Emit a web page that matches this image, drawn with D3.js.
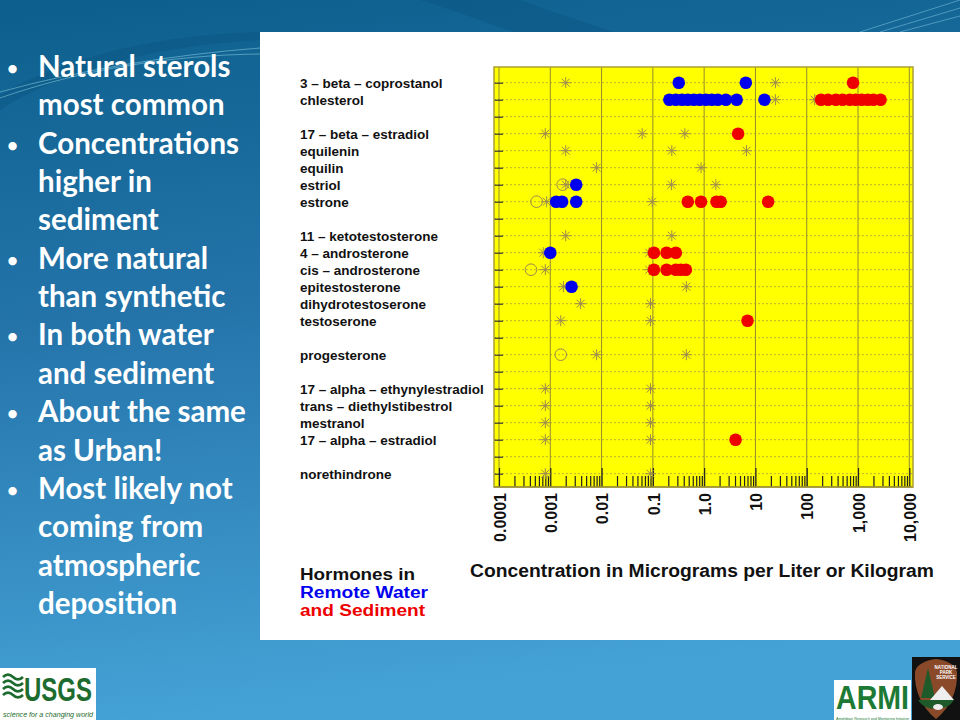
<!DOCTYPE html>
<html>
<head>
<meta charset="utf-8">
<script src="https://cdn.jsdelivr.net/npm/d3@7"></script>
<style>
  body { margin: 0; background: #fff; }
  svg { display: block; }
</style>
</head>
<body>
<svg width="960" height="720"></svg>
<script>
// ---------------- data ----------------
const bullets = [
  ["Natural sterols", "most common"],
  ["Concentrations", "higher in", "sediment"],
  ["More natural", "than synthetic"],
  ["In both water", "and sediment"],
  ["About the same", "as Urban!"],
  ["Most likely not", "coming from", "atmospheric", "deposition"]
];

// row labels, "" = empty spacer row
const compounds = [
  "3 – beta – coprostanol", "chlesterol", "",
  "17 – beta – estradiol", "equilenin", "equilin", "estriol", "estrone", "",
  "11 – ketotestosterone", "4 – androsterone", "cis – androsterone", "epitestosterone",
  "dihydrotestoserone", "testoserone", "",
  "progesterone", "",
  "17 – alpha – ethynylestradiol", "trans – diethylstibestrol", "mestranol", "17 – alpha – estradiol", "",
  "norethindrone"
];

// remote water detections (blue)
const water = [
  ["3 – beta – coprostanol", 0.32], ["3 – beta – coprostanol", 6.5],
  ["chlesterol", 0.21], ["chlesterol", 0.28], ["chlesterol", 0.37], ["chlesterol", 0.48],
  ["chlesterol", 0.63], ["chlesterol", 0.82], ["chlesterol", 1.08], ["chlesterol", 1.41],
  ["chlesterol", 1.85], ["chlesterol", 2.65], ["chlesterol", 4.3], ["chlesterol", 15],
  ["estriol", 0.0032],
  ["estrone", 0.0013], ["estrone", 0.0017], ["estrone", 0.0032],
  ["4 – androsterone", 0.001],
  ["epitestosterone", 0.0026]
];

// sediment detections (red)
const sediment = [
  ["3 – beta – coprostanol", 800],
  ["chlesterol", 190], ["chlesterol", 260], ["chlesterol", 370], ["chlesterol", 500],
  ["chlesterol", 690], ["chlesterol", 900], ["chlesterol", 1180], ["chlesterol", 1550],
  ["chlesterol", 2000], ["chlesterol", 2750],
  ["17 – beta – estradiol", 4.6],
  ["estrone", 0.48], ["estrone", 0.87], ["estrone", 1.74], ["estrone", 2.1], ["estrone", 17.7],
  ["4 – androsterone", 0.105], ["4 – androsterone", 0.185], ["4 – androsterone", 0.28],
  ["cis – androsterone", 0.105], ["cis – androsterone", 0.185], ["cis – androsterone", 0.28],
  ["cis – androsterone", 0.35], ["cis – androsterone", 0.44],
  ["testoserone", 7.0],
  ["17 – alpha – estradiol", 4.1]
];

// non-detects / reporting levels (asterisks)
const limits = [
  ["3 – beta – coprostanol", 0.002], ["3 – beta – coprostanol", 24.5],
  ["chlesterol", 24.5], ["chlesterol", 143],
  ["17 – beta – estradiol", 0.0008], ["17 – beta – estradiol", 0.062], ["17 – beta – estradiol", 0.42],
  ["equilenin", 0.002], ["equilenin", 0.234], ["equilenin", 6.7],
  ["equilin", 0.008], ["equilin", 0.87],
  ["estriol", 0.002], ["estriol", 0.23], ["estriol", 1.69],
  ["estrone", 0.00085], ["estrone", 0.097],
  ["11 – ketotestosterone", 0.002], ["11 – ketotestosterone", 0.234],
  ["4 – androsterone", 0.00073], ["4 – androsterone", 0.085],
  ["cis – androsterone", 0.0008], ["cis – androsterone", 0.085],
  ["epitestosterone", 0.0018], ["epitestosterone", 0.45],
  ["dihydrotestoserone", 0.0039], ["dihydrotestoserone", 0.09],
  ["testoserone", 0.0016], ["testoserone", 0.09],
  ["progesterone", 0.008], ["progesterone", 0.45],
  ["17 – alpha – ethynylestradiol", 0.0008], ["17 – alpha – ethynylestradiol", 0.09],
  ["trans – diethylstibestrol", 0.0008], ["trans – diethylstibestrol", 0.09],
  ["mestranol", 0.0008], ["mestranol", 0.09],
  ["17 – alpha – estradiol", 0.0008], ["17 – alpha – estradiol", 0.09],
  ["norethindrone", 0.0008], ["norethindrone", 0.09]
];

// open circles
const estimated = [
  ["estriol", 0.00174], ["estrone", 0.00054], ["cis – androsterone", 0.00042], ["progesterone", 0.0016]
];

const decades = [1e-4, 1e-3, 1e-2, 1e-1, 1, 10, 100, 1000, 10000];
const decadeLabels = ["0.0001", "0.001", "0.01", "0.1", "1.0", "10", "100", "1,000", "10,000"];

// ---------------- slide background ----------------
const svg = d3.select("svg");
const defs = svg.append("defs");
const bg = defs.append("linearGradient").attr("id", "bg")
  .attr("x1", 0).attr("y1", 0).attr("x2", 0.15).attr("y2", 1);
bg.append("stop").attr("offset", 0).attr("stop-color", "#0c5f8c");
bg.append("stop").attr("offset", 0.45).attr("stop-color", "#2474aa");
bg.append("stop").attr("offset", 1).attr("stop-color", "#45a2d6");

svg.append("rect").attr("width", 960).attr("height", 720).attr("fill", "url(#bg)");

// swooshes
svg.append("path").attr("d", "M420,0 C470,15 530,40 600,60 L700,60 C640,40 560,15 520,0 Z")
  .attr("fill", "#0a4f7c").attr("opacity", 0.35);
svg.append("path").attr("d", "M0,110 C60,70 160,45 260,40 L260,32 C150,35 60,60 0,95 Z")
  .attr("fill", "#0a4f7c").attr("opacity", 0.35);
[[0, 92, 260, 48], [0, 98, 260, 54]].forEach(d => {
  svg.append("path").attr("d", `M${d[0]},${d[1]} C80,70 170,55 ${d[2]},${d[3]}`)
    .attr("fill", "none").attr("stroke", "#9fe0f0").attr("stroke-width", 0.8).attr("opacity", 0.6);
});
[[860, 32, 960, 0], [880, 32, 960, 8], [900, 32, 960, 16]].forEach(d => {
  svg.append("line").attr("x1", d[0]).attr("y1", d[1]).attr("x2", d[2]).attr("y2", d[3])
    .attr("stroke", "#8fd0ea").attr("stroke-width", 0.8).attr("opacity", 0.6);
});

// bullet text
let line = 0;
const bulletG = svg.append("g").attr("fill", "#fff")
  .style("font-family", "Lato, 'Open Sans', sans-serif").style("font-weight", "bold");
bullets.forEach(b => {
  bulletG.append("text").attr("x", 7).attr("y", 75 + line * 38.35)
    .style("font-size", "19px").text("•");
  b.forEach(t => {
    bulletG.append("text").attr("x", 38).attr("y", 77 + line * 38.35)
      .style("font-size", "29.5px").text(t);
    line++;
  });
});

// white panel
svg.append("rect").attr("x", 260).attr("y", 32).attr("width", 700).attr("height", 608).attr("fill", "#fff");

// ---------------- chart ----------------
const plot = { left: 494, right: 913, top: 67, bottom: 487 };
const x = d3.scaleLog().domain([1e-4, 1e4]).range([499, 909.3]);
const y = d3.scalePoint().domain(d3.range(compounds.length)).range([82.7, 473.7]);
const rowY = name => y(compounds.indexOf(name));

const g = svg.append("g");
g.append("rect").attr("x", plot.left).attr("y", plot.top)
  .attr("width", plot.right - plot.left).attr("height", plot.bottom - plot.top)
  .attr("fill", "#ffff00");

// horizontal dotted grid
g.selectAll(".hgrid").data(d3.range(compounds.length)).join("line")
  .attr("x1", plot.left).attr("x2", plot.right)
  .attr("y1", d => y(d)).attr("y2", d => y(d))
  .attr("stroke", "#a8a040").attr("stroke-width", 0.8).attr("stroke-dasharray", "2,2");

// vertical decade grid
g.selectAll(".vgrid").data(decades).join("line")
  .attr("x1", d => x(d)).attr("x2", d => x(d))
  .attr("y1", plot.top).attr("y2", plot.bottom)
  .attr("stroke", "#948c30").attr("stroke-width", 1);

// left ticks inside plot
const yAxis = g.append("g").attr("transform", `translate(${plot.left},0)`)
  .call(d3.axisRight(y).tickSize(9).tickFormat(""));
yAxis.select(".domain").remove();
yAxis.selectAll("line").attr("stroke", "#333").attr("stroke-width", 1.2);

// bottom ticks inside plot
const minor = [];
decades.slice(0, -1).forEach(d => { for (let k = 2; k <= 9; k++) minor.push(d * k); });
const xMinor = g.append("g").attr("transform", `translate(0,${plot.bottom})`)
  .call(d3.axisTop(x).tickValues(minor).tickSize(11).tickFormat(""));
const xMajor = g.append("g").attr("transform", `translate(0,${plot.bottom})`)
  .call(d3.axisTop(x).tickValues(decades).tickSize(19).tickFormat(""));
[xMinor, xMajor].forEach(a => {
  a.select(".domain").remove();
  a.selectAll("line").attr("stroke", "#222").attr("stroke-width", 1.2);
});
g.append("line").attr("x1", plot.left).attr("x2", plot.right)
  .attr("y1", plot.bottom).attr("y2", plot.bottom).attr("stroke", "#222").attr("stroke-width", 1.2);

// border
g.append("rect").attr("x", plot.left).attr("y", plot.top)
  .attr("width", plot.right - plot.left).attr("height", plot.bottom - plot.top)
  .attr("fill", "none").attr("stroke", "#aaa030").attr("stroke-width", 1.5);

// markers
const asterisk = {
  draw(ctx, size) {
    const r = Math.sqrt(size) / 2, q = r * 0.72;
    ctx.moveTo(-r, 0); ctx.lineTo(r, 0);
    ctx.moveTo(0, -r); ctx.lineTo(0, r);
    ctx.moveTo(-q, -q); ctx.lineTo(q, q);
    ctx.moveTo(-q, q); ctx.lineTo(q, -q);
  }
};
g.selectAll(".lim").data(limits).join("path")
  .attr("transform", d => `translate(${x(d[1])},${rowY(d[0])})`)
  .attr("d", d3.symbol().type(asterisk).size(120))
  .attr("fill", "none").attr("stroke", "#9c8a50").attr("stroke-width", 1);

g.selectAll(".est").data(estimated).join("circle")
  .attr("cx", d => x(d[1])).attr("cy", d => rowY(d[0])).attr("r", 5.8)
  .attr("fill", "none").attr("stroke", "#9c8a50").attr("stroke-width", 1);

g.selectAll(".sed").data(sediment).join("circle")
  .attr("cx", d => x(d[1])).attr("cy", d => rowY(d[0])).attr("r", 6.3)
  .attr("fill", "#ee0000");

g.selectAll(".wat").data(water).join("circle")
  .attr("cx", d => x(d[1])).attr("cy", d => rowY(d[0])).attr("r", 6.3)
  .attr("fill", "#0000ee");

// row labels
g.selectAll(".lab").data(compounds).join("text")
  .attr("x", 300).attr("y", (d, i) => y(i)).attr("dy", "0.36em")
  .style("font-family", "'Liberation Sans', Arial, sans-serif").style("font-weight", "bold")
  .style("font-size", "13.5px").attr("fill", "#111").text(d => d);

// tick labels
g.selectAll(".tl").data(decades).join("text")
  .attr("transform", d => `translate(${x(d) + 1},${plot.bottom + 6}) rotate(-90)`)
  .attr("text-anchor", "end").attr("dy", "0.36em")
  .style("font-family", "'Liberation Sans', Arial, sans-serif").style("font-weight", "bold")
  .style("font-size", "16px").attr("fill", "#111")
  .text((d, i) => decadeLabels[i]);

// axis title
g.append("text").attr("x", 470).attr("y", 577)
  .attr("textLength", 464).attr("lengthAdjust", "spacingAndGlyphs")
  .style("font-family", "'Liberation Sans', Arial, sans-serif").style("font-weight", "bold")
  .style("font-size", "17.5px").attr("fill", "#111")
  .text("Concentration in Micrograms per Liter or Kilogram");

// legend text
[["Hormones in", "#111", 580, 115], ["Remote Water", "#0000ee", 598, 128], ["and Sediment", "#ee0000", 616, 125]]
  .forEach(d => {
    g.append("text").attr("x", 300).attr("y", d[2])
      .attr("textLength", d[3]).attr("lengthAdjust", "spacingAndGlyphs")
      .style("font-family", "'Liberation Sans', Arial, sans-serif").style("font-weight", "bold")
      .style("font-size", "16px").attr("fill", d[1]).text(d[0]);
  });

// ---------------- logos ----------------
const usgs = svg.append("g");
usgs.append("rect").attr("x", 0).attr("y", 668).attr("width", 96).attr("height", 52).attr("fill", "#fff");
[677, 683, 689, 695].forEach(yy => {
  usgs.append("path").attr("d", `M3,${yy} q5,-5 10,0 t10,0`)
    .attr("fill", "none").attr("stroke", "#1d6b2e").attr("stroke-width", 2.6);
});
usgs.append("text").attr("x", 24).attr("y", 701).attr("textLength", 68).attr("lengthAdjust", "spacingAndGlyphs")
  .style("font-family", "'Liberation Sans Narrow', 'Liberation Sans', sans-serif").style("font-weight", "bold")
  .style("font-size", "33px").attr("fill", "#1d6b2e").text("USGS");
usgs.append("text").attr("x", 3).attr("y", 717).attr("textLength", 90).attr("lengthAdjust", "spacingAndGlyphs")
  .style("font-family", "'Liberation Sans', sans-serif").style("font-style", "italic")
  .style("font-size", "8px").attr("fill", "#1d6b2e").text("science for a changing world");

const armi = svg.append("g");
armi.append("rect").attr("x", 834).attr("y", 680).attr("width", 77).attr("height", 40).attr("fill", "#fff");
armi.append("text").attr("x", 836).attr("y", 709).attr("textLength", 73).attr("lengthAdjust", "spacingAndGlyphs")
  .style("font-family", "'Liberation Sans Narrow', 'Liberation Sans', sans-serif").style("font-weight", "bold")
  .style("font-size", "33px").attr("fill", "#1d7a35").text("ARMI");
armi.append("text").attr("x", 836).attr("y", 719.8).attr("textLength", 73).attr("lengthAdjust", "spacingAndGlyphs")
  .style("font-family", "'Liberation Sans', sans-serif").style("font-size", "3.6px").attr("fill", "#1d7a35")
  .text("Amphibian Research and Monitoring Initiative");

const nps = svg.append("g");
nps.append("rect").attr("x", 912).attr("y", 657).attr("width", 48).attr("height", 63).attr("fill", "#111");
nps.append("path").attr("d", "M936,659 C945,660 956,664 957,672 C958,690 950,708 936,719 C922,708 914,690 915,672 C916,664 927,660 936,659 Z")
  .attr("fill", "#8a4a2a");
nps.append("path").attr("d", "M928,668 L921,698 L935,698 Z").attr("fill", "#1f5a2a");
nps.append("path").attr("d", "M930,700 L942,686 L954,700 Z").attr("fill", "#eee");
nps.append("path").attr("d", "M918,700 C925,712 947,712 954,700 Z").attr("fill", "#1f5a2a");
nps.append("ellipse").attr("cx", 938).attr("cy", 707).attr("rx", 5).attr("ry", 3).attr("fill", "#eee");
["NATIONAL", "PARK", "SERVICE"].forEach((t, i) => {
  nps.append("text").attr("x", 946).attr("y", 669 + i * 5).attr("text-anchor", "middle")
    .style("font-family", "'Liberation Sans', sans-serif").style("font-weight", "bold")
    .style("font-size", "4.5px").attr("fill", "#fff").text(t);
});
</script>
</body>
</html>
